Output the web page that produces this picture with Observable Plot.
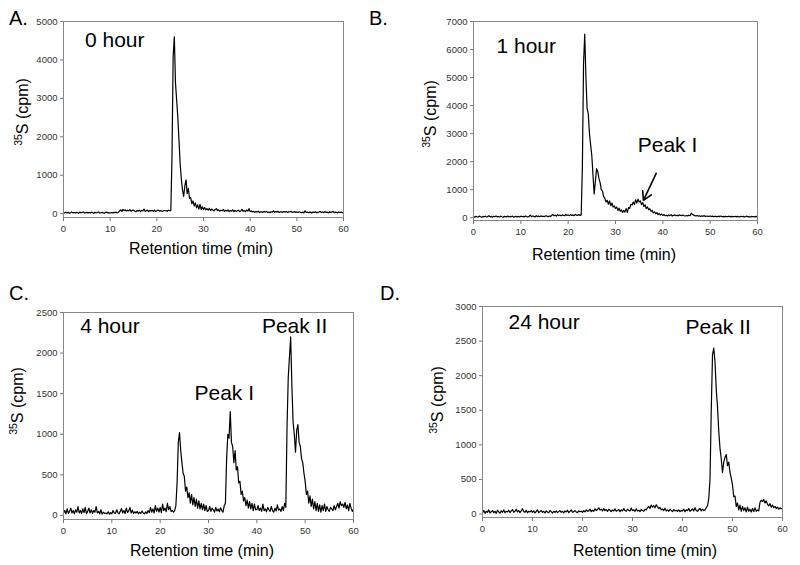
<!DOCTYPE html>
<html>
<head>
<meta charset="utf-8">
<script src="https://cdn.jsdelivr.net/npm/d3@7"></script>
<script src="https://cdn.jsdelivr.net/npm/@observablehq/plot@0.6"></script>
<style>
  html, body { margin: 0; padding: 0; background: #fff; }
  #root { position: relative; width: 800px; height: 565px; background: #fff; overflow: hidden;
          font-family: "Liberation Sans", Arial, sans-serif; color: #000; }
  .panel { position: absolute; }
  .lbl { position: absolute; line-height: 1; white-space: nowrap; }
  .xt { position: absolute; width: 300px; text-align: center; font-size: 16px; line-height: 1; }
  .yt { position: absolute; width: 120px; height: 20px; line-height: 20px; text-align: center; font-size: 16px;
        transform: translate(-50%, -50%) rotate(-90deg); white-space: nowrap; }
  .yt sup { font-size: 10.5px; vertical-align: 0; position: relative; top: -6px; }
</style>
</head>
<body>
<div id="root"></div>
<script>
const sampleStepMin = 0.25;
const xTicks = [0, 10, 20, 30, 40, 50, 60];

const hour0 = [
  30,15,40,20,35,10,25,45,20,30,15,35,25,10,40,20,30,45,15,25,
  35,20,30,15,40,25,10,35,20,30,45,15,25,35,20,10,30,40,20,25,
  15,30,20,35,25,40,20,30,70,95,60,110,80,100,65,90,75,105,60,85,
  95,70,50,80,65,90,55,85,70,120,60,75,95,55,80,70,85,60,90,55,
  75,95,65,80,70,60,85,75,80,60,90,75,80,1500,4100,4600,3400,2950,2500,1900,
  1300,900,620,450,720,880,520,660,400,420,260,330,200,280,150,230,120,240,110,180,
  110,160,100,130,90,140,80,120,95,70,110,130,80,100,65,90,75,110,60,85,
  70,95,55,80,65,100,50,85,60,75,90,55,70,110,60,80,50,95,65,130,
  55,70,45,60,35,55,40,65,30,50,45,35,55,40,60,30,45,25,50,40,
  70,35,55,40,60,30,50,45,35,55,40,60,30,50,45,65,35,40,55,30,
  45,30,50,35,25,40,20,75,30,45,25,40,35,20,45,30,50,25,35,40,
  60,30,45,25,55,35,40,20,50,30,45,60,25,40,35,20,45,30,40,25,
  35
];
const hour1 = [
  40,20,50,30,25,60,35,20,45,30,55,25,40,70,30,45,20,50,35,60,
  30,45,25,55,35,20,50,40,30,60,25,45,35,55,20,40,50,30,45,25,
  55,35,45,30,60,40,25,50,90,35,60,45,30,70,40,55,35,65,45,50,
  40,70,55,35,60,45,80,120,70,90,60,110,75,95,65,100,80,70,115,85,
  95,75,110,80,100,70,120,90,85,110,80,100,1800,5500,6550,5000,3900,3700,3000,2600,
  2200,1500,850,1300,1750,1650,1400,1250,1000,950,750,700,560,620,480,600,430,520,380,420,
  330,380,260,340,230,280,190,260,200,330,190,360,330,480,450,560,470,640,520,660,
  560,600,470,540,400,460,330,380,280,320,230,260,170,210,140,180,110,150,90,130,
  80,110,70,90,60,95,75,110,60,85,100,70,90,65,105,80,75,95,70,60,
  80,65,90,70,160,120,90,75,60,80,55,70,45,65,50,75,40,60,50,45,
  60,40,55,35,50,45,30,55,40,60,35,45,30,50,40,35,55,30,45,40,
  35,50,30,45,40,25,50,35,45,30,40,55,30,40,25,45,35,40,30,45,
  35
];
const hour4 = [
  30,60,20,80,25,50,90,30,60,20,70,40,110,30,60,25,80,35,100,20,
  50,90,30,70,25,60,40,110,30,50,20,70,15,40,25,30,20,45,15,35,
  20,60,30,25,70,35,20,50,85,30,60,25,90,35,55,100,30,65,25,45,
  30,50,20,40,25,55,30,20,45,25,60,35,100,40,80,30,120,50,90,40,
  100,35,140,60,90,45,150,70,110,50,60,40,60,120,400,900,1020,800,650,520,
  480,300,350,220,280,150,260,130,220,110,200,90,180,80,150,70,140,60,120,50,
  60,110,50,90,70,40,100,55,80,45,95,60,40,120,150,700,1000,950,1280,900,
  850,650,800,560,600,400,420,260,300,180,220,120,190,90,170,80,150,60,140,70,
  70,120,60,90,50,140,60,80,45,100,70,50,110,60,40,90,55,130,65,80,
  50,110,60,150,100,1100,1700,1950,2200,1600,1150,1000,780,1050,1120,900,850,700,650,520,
  420,260,300,150,240,110,200,80,170,60,150,50,130,40,120,60,140,50,110,70,
  50,100,80,60,120,70,110,150,90,170,120,140,100,160,80,130,60,150,90,50,
  80
];
const hour24 = [
  20,50,10,40,25,60,15,35,50,20,40,10,55,30,15,45,25,60,20,40,
  30,55,20,45,65,25,40,70,30,50,20,45,75,35,25,55,20,40,30,50,
  25,45,15,40,60,20,35,50,25,40,15,45,30,20,50,35,15,40,25,45,
  20,35,50,25,40,15,45,30,55,20,40,60,25,35,50,30,20,45,35,40,
  25,50,30,60,40,45,70,35,55,40,75,50,65,90,60,70,45,80,50,65,
  40,70,55,35,60,45,75,40,50,65,35,60,45,80,50,40,70,55,45,85,
  50,60,40,75,45,55,35,65,50,40,70,60,90,110,80,130,100,120,90,135,
  105,80,95,60,75,50,85,45,60,40,70,50,35,65,45,55,40,60,35,50,
  45,70,35,60,50,80,40,55,75,45,90,50,40,65,80,45,70,50,60,90,
  120,220,500,1500,2300,2400,2200,1800,1550,1200,950,800,600,750,820,860,700,750,600,520,
  420,250,260,110,160,60,130,40,110,50,90,30,100,40,70,30,80,35,90,40,
  60,45,170,200,180,210,160,190,140,120,150,100,130,90,110,80,100,70,90,75,
  80
];

// y tick labels of each panel
const yTicksA = [0, 1000, 2000, 3000, 4000, 5000];
const yTicksB = [0, 1000, 2000, 3000, 4000, 5000, 6000, 7000];
const yTicksC = [0, 500, 1000, 1500, 2000, 2500];
const yTicksD = [0, 500, 1000, 1500, 2000, 2500, 3000];

// annotation texts (placed in data units: min, cpm)
const notesA = [{t: 4.6, cpm: 4520, text: "0 hour"}];
const notesB = [{t: 4.85, cpm: 6100, text: "1 hour"}, {t: 34.7, cpm: 2580, text: "Peak I"}];
const notesC = [{t: 3.45, cpm: 2325, text: "4 hour"}, {t: 27.1, cpm: 1500, text: "Peak I"}, {t: 41.05, cpm: 2325, text: "Peak II"}];
const notesD = [{t: 5.2, cpm: 2770, text: "24 hour"}, {t: 40.6, cpm: 2700, text: "Peak II"}];
const arrowsB = [{t1: 38.6, c1: 1580, t2: 35.9, c2: 620}];

// ---- Drawing ----
const root = document.getElementById("root");

function series(values) {
  return values.map((v, i) => ({t: i * sampleStepMin, cpm: v}));
}

function panel(cfg) {
  const marks = [
    Plot.axisX({ticks: xTicks, tickSize: 4, tickPadding: 4, tickFormat: "d", label: null, stroke: "#777", fill: "#333"}),
    Plot.axisY({ticks: cfg.yTicks, tickSize: 3, tickPadding: 3, tickFormat: "d", label: null, stroke: "#777", fill: "#333"}),
    Plot.line(series(cfg.values), {x: "t", y: "cpm", stroke: "#000", strokeWidth: 1.2}),
    Plot.frame({stroke: "#888", strokeWidth: 1}),
    Plot.text(cfg.notes, {x: "t", y: "cpm", text: "text", textAnchor: "start", fontSize: 21, fill: "#000"})
  ];
  if (cfg.arrows) {
    marks.push(Plot.arrow(cfg.arrows, {x1: "t1", y1: "c1", x2: "t2", y2: "c2", stroke: "#000", strokeWidth: 1.6, headLength: 9}));
  }
  const svg = Plot.plot({
    width: cfg.w, height: cfg.h,
    marginLeft: cfg.ml, marginRight: cfg.mr, marginTop: cfg.mt, marginBottom: cfg.mb,
    style: {fontFamily: '"Liberation Sans", Arial, sans-serif', fontSize: "9.5px", background: "transparent", color: "#333"},
    x: {domain: [0, 60]},
    y: {domain: cfg.yDomain},
    marks
  });
  const div = document.createElement("div");
  div.className = "panel";
  div.style.left = cfg.left + "px";
  div.style.top = cfg.top + "px";
  div.style.width = cfg.w + "px";
  div.appendChild(svg);
  root.appendChild(div);
}

panel({values: hour0, yTicks: yTicksA, yDomain: [-100, 5000], notes: notesA,
       left: 0, top: 0, w: 400, h: 280, ml: 63, mr: 57, mt: 21, mb: 63});
panel({values: hour1, yTicks: yTicksB, yDomain: [-100, 7000], notes: notesB, arrows: arrowsB,
       left: 400, top: 0, w: 400, h: 280, ml: 73, mr: 43, mt: 21, mb: 60});
panel({values: hour4, yTicks: yTicksC, yDomain: [-50, 2500], notes: notesC,
       left: 0, top: 280, w: 400, h: 285, ml: 63, mr: 47, mt: 32, mb: 46});
panel({values: hour24, yTicks: yTicksD, yDomain: [-50, 3000], notes: notesD,
       left: 400, top: 280, w: 400, h: 285, ml: 82, mr: 18, mt: 26, mb: 48});

// panel letters, axis titles
const letters = [["A.", 9, 8], ["B.", 369, 8], ["C.", 9, 283], ["D.", 380, 283]];
for (const [txt, x, y] of letters) {
  const d = document.createElement("div");
  d.className = "lbl"; d.style.fontSize = "20px";
  d.style.left = x + "px"; d.style.top = y + "px";
  d.textContent = txt; root.appendChild(d);
}
const xTitles = [[201, 240.5], [604, 247], [202, 543], [645, 542.5]];
for (const [cx, top] of xTitles) {
  const d = document.createElement("div");
  d.className = "xt"; d.style.left = (cx - 150) + "px"; d.style.top = top + "px";
  d.textContent = "Retention time (min)"; root.appendChild(d);
}
const yTitles = [[23, 112], [431, 114], [18, 401], [438, 400]];
for (const [cx, cy] of yTitles) {
  const d = document.createElement("div");
  d.className = "yt"; d.style.left = cx + "px"; d.style.top = cy + "px";
  d.innerHTML = "<sup>35</sup>S (cpm)"; root.appendChild(d);
}
</script>
</body>
</html>
